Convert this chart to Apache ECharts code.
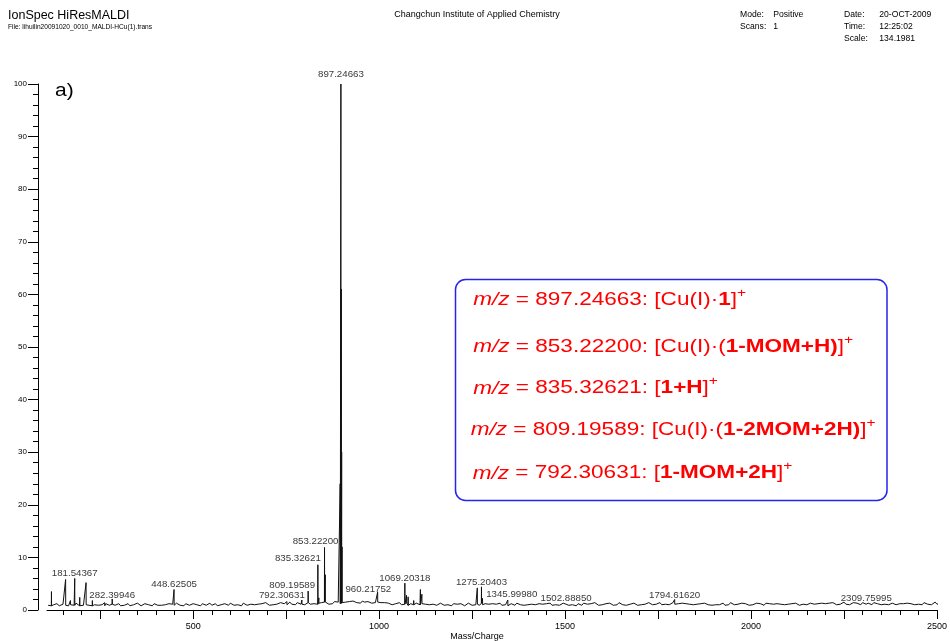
<!DOCTYPE html>
<html>
<head>
<meta charset="utf-8">
<script src="https://cdn.jsdelivr.net/npm/echarts@6/dist/echarts.min.js"></script>
<style>html,body{margin:0;padding:0;background:#fff;}#c{width:950px;height:641px;}</style>
</head>
<body>
<div id="c"></div>
<script>
// ---------- data ----------
const baselineStart = 110, baselineStep = 5;
const baseline = [
 0.9,1.1,0.8,1.0,0.9,1.2,0.8,1.0,1.1,0.9,1.2,0.8,1.0,1.1,0.9,1.3,1.0,0.8,1.1,0.9,
 1.0,1.2,0.9,1.1,0.8,1.0,1.3,0.9,1.1,1.0,0.8,1.2,1.0,0.9,1.1,1.3,0.9,1.0,1.2,0.8,
 1.1,0.9,1.0,1.2,0.8,1.1,1.0,0.9,1.3,1.0,0.8,1.1,1.2,0.9,1.0,1.1,0.8,1.2,1.0,0.9,
 1.2,0.9,1.1,1.0,0.8,1.2,1.0,1.1,0.9,1.3,1.0,0.9,1.1,0.8,1.2,1.0,0.9,1.1,1.2,0.9,
 1.0,1.1,0.8,1.2,1.0,0.9,1.1,1.3,0.9,1.0,1.2,0.8,1.1,1.0,0.9,1.2,1.1,0.9,1.3,1.0,
 0.9,1.2,1.0,1.1,0.8,1.3,1.0,0.9,1.2,1.1,0.9,1.0,1.3,1.1,0.9,1.2,1.0,1.4,1.1,0.9,
 1.2,1.0,1.3,1.1,1.0,1.4,1.1,1.2,1.0,1.3,1.5,1.1,1.2,1.0,1.4,1.2,1.1,1.3,1.0,1.2,
 1.4,1.1,1.3,1.2,1.5,1.1,1.3,1.4,1.2,1.5,1.3,1.1,1.4,1.2,1.6,1.3,1.5,1.2,1.4,1.3,
 1.5,1.3,1.6,1.4,1.7,1.5,1.4,1.6,1.3,1.7,1.5,1.4,1.6,1.5,1.3,1.6,1.4,1.5,1.3,1.4,
 1.2,1.4,1.1,1.3,1.2,1.0,1.3,1.2,1.1,1.4,1.0,1.2,1.1,1.3,0.9,1.2,1.1,1.0,1.3,1.1,
 1.0,1.2,0.9,1.1,1.3,1.0,0.8,1.1,1.2,0.9,1.0,1.3,1.1,0.9,1.2,1.0,1.1,0.8,1.2,1.0,
 1.1,0.9,1.2,1.0,0.8,1.1,1.3,1.0,0.9,1.2,1.0,1.1,0.9,1.3,1.0,1.2,0.9,1.1,1.0,1.2,
 0.9,1.1,1.0,1.3,0.9,1.2,1.0,0.8,1.1,1.2,1.0,0.9,1.3,1.1,1.0,1.2,0.9,1.1,1.0,0.8,
 1.1,1.3,1.0,0.9,1.2,1.0,1.1,0.8,1.2,1.0,1.3,0.9,1.1,1.0,1.2,0.9,1.1,1.3,1.0,1.1,
 0.9,1.2,1.0,1.1,0.8,1.2,1.1,0.9,1.3,1.0,1.1,0.9,1.2,1.0,1.4,1.1,0.9,1.2,1.0,1.1,
 1.2,1.0,1.3,1.1,0.9,1.2,1.0,1.4,1.1,1.0,1.3,0.9,1.2,1.1,1.0,1.3,1.1,0.9,1.2,1.0,
 1.3,1.1,1.0,1.4,1.2,1.0,1.3,1.1,1.2,1.4,1.0,1.2,1.1,1.3,1.0,1.2,1.4,1.1,1.0,1.2,
 1.1,1.3,1.0,1.2,0.9,1.1,1.3,1.0,1.2,1.1,0.9,1.2,1.0,1.3,1.1,1.0,1.2,0.9,1.1,1.0,
 1.2,1.0,1.1,1.3,0.9,1.2,1.0,1.4,1.1,1.0,1.2,1.1,0.9,1.3,1.0,1.2,1.1,0.9,1.2,1.0,
 1.1,1.3,1.0,1.2,1.1,0.9,1.3,1.0,1.2,1.4,1.1,1.0,1.2,0.9,1.1,1.3,1.0,1.2,1.1,1.0,
 1.2,1.0,1.3,1.1,0.9,1.2,1.1,1.4,1.0,1.2,1.3,1.0,1.1,1.4,1.2,1.0,1.3,1.1,1.2,1.0,
 1.3,1.1,1.4,1.2,1.0,1.3,1.1,1.2,1.5,1.1,1.3,1.0,1.2,1.4,1.1,1.3,1.2,1.0,1.4,1.2,
 1.1,1.3,1.2,1.0,1.4,1.1,1.2,1.3,1.0,1.2,1.1,1.4,1.0,1.2,1.3,1.1,1.0,1.3,1.2,1.1,
 1.2,1.0,1.3,1.1,1.2,1.4,1.0,1.3,1.1,1.2,1.0,1.4,1.2,1.1,1.3,1.0,1.2,1.5,1.1,1.2
];
const peakMz = [119,134,157,170,181.54367,195,212,229,262,282.39946,448.62505,752,781,792.30631,809.19589,835.32621,838,853.222,855.2,895.3,897.24663,898.25,899.25,900.25,960.21752,996,1069.20318,1073.7,1078,1093,1111,1115,1264,1275.20403,1278,1345.9998,1502.8885,1794.6162,2309.75995];
const peakInt = [3.5,1.5,5.8,1.8,6.0,2.4,5.2,1.8,1.4,2.1,3.9,1.6,1.5,1.9,3.6,8.6,2.3,11.9,6.7,24,100,61,30,12,1.9,3.4,5.1,2.8,2.5,1.8,3.9,3.0,4.2,4.4,2.2,1.9,1.3,2.0,1.3];
const labelText = ['181.54367','282.39946','448.62505','792.30631','809.19589','835.32621','853.22200','897.24663','960.21752','1069.20318','1275.20403','1345.99980','1502.88850','1794.61620','2309.75995'];
const labelMz = [181.54367,282.39946,448.62505,792.30631,809.19589,835.32621,853.222,897.24663,960.21752,1069.20318,1275.20403,1345.9998,1502.8885,1794.6162,2309.75995];
const labelInt = [6.0,2.1,3.9,1.9,3.6,8.6,11.9,100,1.9,5.1,4.4,1.9,1.3,2.0,1.3];
const xLabelValues = [500,1000,1500,2000,2500];
const xMidTickValues = [250,500,750,1000,1250,1500,1750,2000,2250,2500];
const yMin = 0, yMax = 100, yStep = 10;
const xMin = 107, xMax = 2500;

// ---------- styles (label offsets in px) ----------
const labelOffsets = [[0,1],[0,2],[0,1],[-20,1],[-16,0],[-20,0],[-9,0],[0,-4],[4,-5],[0,1],[0,1],[4,0],[0,1],[0,2],[0,1]];
const FONT = "'Liberation Sans', Arial, Helvetica, sans-serif";

// ---------- build spectrum ----------
const pts = [];
baseline.forEach((v, i) => pts.push([baselineStart + i * baselineStep, v]));
peakMz.forEach((m, i) => {
  let k = Math.round((m - baselineStart) / baselineStep);
  k = Math.max(0, Math.min(baseline.length - 1, k));
  const b = baseline[k];
  pts.push([m - 0.3, b]); pts.push([m, peakInt[i]]); pts.push([m + 0.3, b]);
});
pts.sort((a, b) => a[0] - b[0]);
const xMinorTicks = [];
for (let v = 150; v <= xMax; v += 50) xMinorTicks.push(v);

const labelData = labelMz.map((m, i) => ({
  value: [m, labelInt[i]], name: labelText[i],
  label: { offset: labelOffsets[i] }
}));

const RED = '#ff0000';
const RICH = {
  i: { fontStyle: 'italic', fontSize: 18.8, lineHeight: 26, fill: RED, color: RED, fontFamily: FONT },
  n: { fontSize: 18.8, lineHeight: 26, fill: RED, color: RED, fontFamily: FONT },
  b: { fontWeight: 'bold', fontSize: 18.8, lineHeight: 26, fill: RED, color: RED, fontFamily: FONT },
  s: { fontSize: 13, lineHeight: 13, verticalAlign: 'top', fill: RED, color: RED, fontFamily: FONT }
};
const boxLines = [
  ['{i|m/z}{n| = 897.24663: [Cu(I)·}{b|1}{n|]}{s|+}', 473.3, 300],
  ['{i|m/z}{n| = 853.22200: [Cu(I)·(}{b|1-MOM+H)}{n|]}{s|+}', 473.3, 346.7],
  ['{i|m/z}{n| = 835.32621: [}{b|1+H}{n|]}{s|+}', 473.3, 388.3],
  ['{i|m/z}{n| = 809.19589: [Cu(I)·(}{b|1-2MOM+2H)}{n|]}{s|+}', 470.7, 430],
  ['{i|m/z}{n| = 792.30631: [}{b|1-MOM+2H}{n|]}{s|+}', 472.7, 473.3]
];

function txt(text, x, y, size, align, extra) {
  return Object.assign({ type: 'text', x: x, y: y,
    style: { text: text, fontSize: size, fontFamily: FONT, fill: '#000', align: align || 'left', verticalAlign: 'middle' } }, extra || {});
}

const graphics = [
  txt('IonSpec HiResMALDI', 8, 16, 12.5),
  txt('File: lihuilin20091020_0010_MALDI-HCu(1).trans', 8, 27, 6.6),
  txt('Changchun Institute of Applied Chemistry', 477, 15, 9, 'center'),
  txt('Mode:', 740, 15, 8.6), txt('Positive', 773.3, 15, 8.6),
  txt('Scans:', 740, 26.7, 8.6), txt('1', 773.3, 26.7, 8.6),
  txt('Date:', 844, 15, 8.6), txt('20-OCT-2009', 879.3, 15, 8.6),
  txt('Time:', 844, 26.7, 8.6), txt('12:25:02', 879.3, 26.7, 8.6),
  txt('Scale:', 844, 38.3, 8.6), txt('134.1981', 879.3, 38.3, 8.6),
  txt('a)', 55, 91, 17.5, 'left', { scaleX: 1.2 }),
  txt('Mass/Charge', 477, 636.5, 9, 'center'),
  { type: 'rect', shape: { x: 455.5, y: 279.5, width: 431.5, height: 221, r: 10 },
    style: { fill: 'none', stroke: '#2424f0', lineWidth: 1.5 } }
];
boxLines.forEach(l => graphics.push({ type: 'text', x: l[1], y: l[2], scaleX: 1.2,
  style: { text: l[0], rich: RICH, fontSize: 18.8, fontFamily: FONT, fill: RED, align: 'left', verticalAlign: 'middle' } }));

const chart = echarts.init(document.getElementById('c'), null, { renderer: 'canvas' });
chart.setOption({
  animation: false,
  backgroundColor: '#fff',
  grid: { left: 47, right: 12, top: 84, bottom: 31, containLabel: false },
  xAxis: [
    { type: 'value', min: xMin, max: xMax, position: 'bottom',
      axisLine: { show: true, onZero: false, lineStyle: { color: '#000', width: 1 } },
      axisTick: { show: true, customValues: xMidTickValues, length: 9, lineStyle: { color: '#000' } },
      axisLabel: { show: true, customValues: xLabelValues, fontSize: 9, color: '#000', margin: 12, fontFamily: FONT,
        formatter: v => String(v) },
      splitLine: { show: false } },
    { type: 'value', min: xMin, max: xMax, position: 'bottom',
      axisLine: { show: false, onZero: false },
      axisTick: { show: true, customValues: xMinorTicks, length: 5, lineStyle: { color: '#000' } },
      axisLabel: { show: false }, splitLine: { show: false } }
  ],
  yAxis: { type: 'value', min: yMin, max: yMax, interval: yStep, offset: 9,
    axisLine: { show: true, lineStyle: { color: '#000', width: 1 } },
    axisTick: { show: true, length: 10, lineStyle: { color: '#000' } },
    minorTick: { show: true, splitNumber: 5, length: 5, lineStyle: { color: '#000' } },
    axisLabel: { fontSize: 8, color: '#000', margin: 11, fontFamily: FONT, formatter: v => String(v) },
    splitLine: { show: false }, minorSplitLine: { show: false } },
  series: [
    { type: 'line', data: pts, showSymbol: false, symbol: 'none', clip: true,
      lineStyle: { color: '#111', width: 1 }, silent: true },
    { type: 'scatter', data: labelData, symbolSize: 0, silent: true,
      label: { show: true, position: 'top', distance: 1, formatter: p => p.name,
        fontSize: 9.7, color: '#000', fontFamily: FONT } }
  ],
  graphic: graphics
});
</script>
</body>
</html>
